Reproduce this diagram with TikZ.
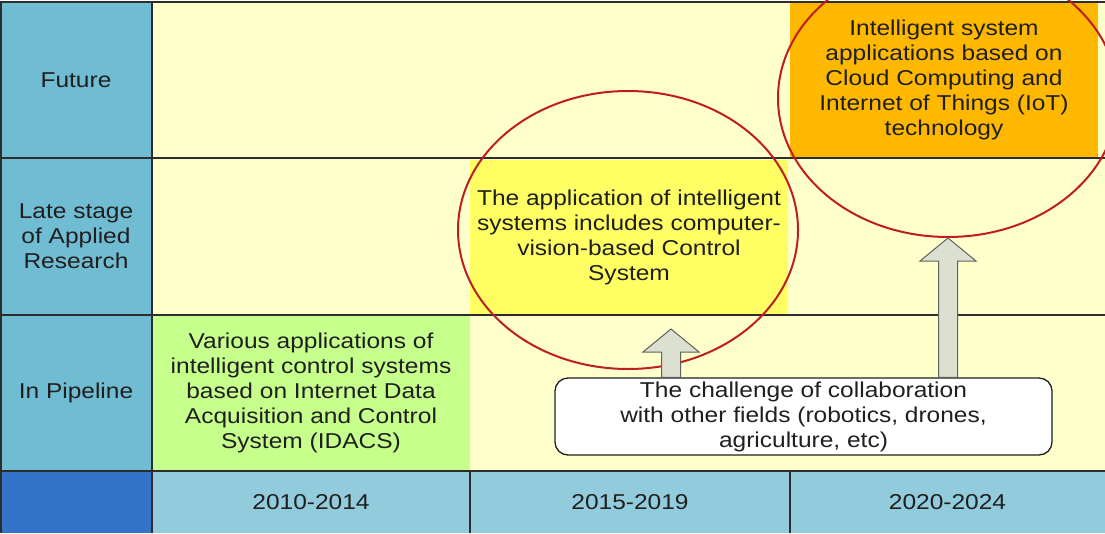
\documentclass[tikz,border=0pt]{standalone}
\usepackage{fontspec}
\setmainfont{Liberation Sans}[FakeStretch=1.14]
\usetikzlibrary{shapes.geometric, calc, positioning}
\definecolor{headblue}{RGB}{112, 188, 210}
\definecolor{cornerblue}{RGB}{52, 116, 200}
\definecolor{yearblue}{RGB}{146, 204, 220}
\definecolor{creambg}{RGB}{255, 255, 204}
\definecolor{pipegreen}{RGB}{199, 255, 140}
\definecolor{lateyellow}{RGB}{255, 255, 100}
\definecolor{futorange}{RGB}{255, 184, 0}
\definecolor{ringred}{RGB}{190, 30, 35}
\definecolor{arrowgray}{RGB}{220, 224, 208}
\definecolor{gridline}{RGB}{45, 45, 45}

\tikzset{
  cell/.style={rectangle, inner sep=0pt, align=center, text=black!88,
    font=\fontsize{21.5}{25}\selectfont},
  ring/.style={ellipse, draw=ringred, line width=2pt, inner sep=0pt,
    minimum width=340pt, minimum height=278pt},
  blockarr/.style={fill=arrowgray, draw=gray!75!black, line width=1pt},
  gridrule/.style={draw=gridline, line width=2pt},
  callout/.style={cell, fill=white, draw=gray!25!black, line width=1.3pt,
    rounded corners=13pt, minimum width=497pt, minimum height=77pt}
}

% vertical block arrow from #1 (base) up to #2 (tip)
\newcommand{\blockup}[2]{%
  \draw[blockarr] let \p1=(#1), \p2=(#2) in
    (\x1-9.5pt,\y1) -- (\x1-9.5pt,\y2-23pt) -- (\x1-28pt,\y2-23pt)
    -- (\x2,\y2) -- (\x1+28pt,\y2-23pt) -- (\x1+9.5pt,\y2-23pt)
    -- (\x1+9.5pt,\y1) -- cycle;}

\begin{document}
\begin{tikzpicture}[x=1pt, y=-1pt]
  \useasboundingbox (0,0) rectangle (1105,533);
  % background
  \fill[creambg] (152,2) rectangle (1105,471);

  % row heads
  \node[cell, fill=headblue, minimum width=152pt, minimum height=156pt] (fut) at (76,80) {Future};
  \node[cell, fill=headblue, minimum width=152pt, minimum height=157pt] (late) at (76,236.5) {Late stage\\of Applied\\Research};
  \node[cell, fill=headblue, minimum width=152pt, minimum height=156pt] (pipe) at (76,393) {In Pipeline};
  \node[cell, fill=cornerblue, minimum width=152pt, minimum height=62pt] (corner) at (76,502) {};

  % years
  \node[cell, fill=yearblue, minimum width=318pt, minimum height=62pt] (y1) at (311,502) {2010-2014};
  \node[cell, fill=yearblue, minimum width=320pt, minimum height=62pt] (y2) at (630,502) {2015-2019};
  \node[cell, fill=yearblue, minimum width=315pt, minimum height=62pt] (y3) at (947.5,502) {2020-2024};

  % coloured cells
  \node[cell, fill=pipegreen, minimum width=318pt, minimum height=156pt] (idacs) at (311,393)
    {Various applications of\\intelligent control systems\\based on Internet Data\\Acquisition and Control\\System (IDACS)};
  \node[cell, fill=lateyellow, minimum width=318pt, minimum height=155pt] (vision) at (629,237.5)
    {The application of intelligent\\systems includes computer-\\vision-based Control\\System};
  \node[cell, fill=futorange, minimum width=308pt, minimum height=156pt] (cloud) at (944,80)
    {Intelligent system\\applications based on\\Cloud Computing and\\Internet of Things (IoT)\\technology};

  % grid
  \draw[gridrule] (0,2) -- (1105,2);
  \draw[gridrule] (0,158) -- (1105,158);
  \draw[gridrule] (0,315) -- (1105,315);
  \draw[gridrule] (0,471) -- (1105,471);
  \draw[gridrule] (1,2) -- (1,533);
  \draw[gridrule] (152,2) -- (152,533);
  \draw[gridrule] (470,471) -- (470,533);
  \draw[gridrule] (790,471) -- (790,533);

  % red rings
  \node[ring] (ringA) at (628,230) {};
  \node[ring] (ringB) at (948,98) {};

  % challenge box and arrows
  \node[callout] (chal) at (803.5,416.5)
    {The challenge of collaboration\\with other fields (robotics, drones,\\agriculture, etc)};
  \coordinate (tipA) at (671,329);
  \blockup{671,0 |- chal.north}{tipA}
  \blockup{948,0 |- chal.north}{ringB.south}
\end{tikzpicture}
\end{document}
